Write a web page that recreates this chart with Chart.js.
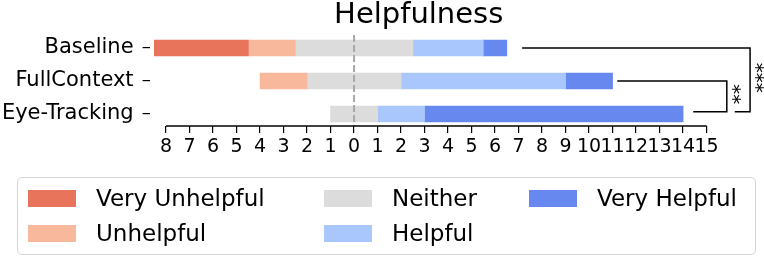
<!DOCTYPE html>
<html>
<head>
<meta charset="utf-8">
<script src="https://cdn.jsdelivr.net/npm/chart.js@4"></script>
<style>
  body { margin: 0; background: #fff; }
  #wrap { position: relative; width: 764px; height: 257px; }
  #legend {
    position: absolute; left: 17px; top: 177px; width: 739px; height: 78px;
    box-sizing: border-box; border: 1.5px solid #d4d4d4; border-radius: 5px;
    font-family: "DejaVu Sans", sans-serif; font-size: 23px; color: #000;
  }
  .item { position: absolute; height: 24px; display: flex; align-items: center; line-height: 1; }
  .sw { width: 48px; height: 17px; margin-right: 20px; }
</style>
</head>
<body>
<div id="wrap">
  <canvas id="chart"></canvas>
  <div id="legend"></div>
</div>
<script>
// ---- data ----
const categories = ['Baseline', 'FullContext', 'Eye-Tracking'];
const levels = ['Very Unhelpful', 'Unhelpful', 'Neither', 'Helpful', 'Very Helpful'];
const colors = ['#e7745b', '#f7b89c', '#dddcdc', '#aac7fd', '#6788ee'];

const veryUnhelpful = [4, 0, 0];
const unhelpful     = [2, 2, 0];
const neither       = [5, 4, 2];
const helpful       = [3, 7, 2];
const veryHelpful   = [1, 2, 11];

const xTicks = [-8, -7, -6, -5, -4, -3, -2, -1, 0, 1, 2, 3, 4, 5, 6, 7, 8, 9, 10, 11, 12, 13, 14, 15];

// significance brackets (data units): row span, x of each arm, label
const brackets = [
  { top: 0, bottom: 1.93, xTop: 7.15, xVert: 16.85, xBottom: 16.2, label: '***' },
  { top: 1, bottom: 1.93, xTop: 11.2, xVert: 15.86, xBottom: 14.43, label: '**' }
];

const FONT = '"DejaVu Sans", sans-serif';

// 把计数转换成以 Neither 中点为 0 的浮动区间（0 计数的段不画）
const counts = [veryUnhelpful, unhelpful, neither, helpful, veryHelpful];
const datasets = levels.map((lvl, k) => ({
  label: lvl,
  backgroundColor: colors[k],
  borderWidth: 0,
  grouped: false,
  barThickness: 16,
  data: categories.map((c, i) => {
    let start = -(veryUnhelpful[i] + unhelpful[i] + neither[i] / 2);
    for (let j = 0; j < k; j++) start += counts[j][i];
    return { x: [start, start + counts[k][i]], y: i, n: counts[k][i] };
  }).filter(d => d.n > 0)
}));

const annotate = {
  id: 'annotate',
  afterDatasetsDraw(chart) {
    const { ctx, chartArea, scales: { x } } = chart;
    const x0 = x.getPixelForValue(0);
    ctx.save();
    ctx.strokeStyle = '#a8a8a8';
    ctx.lineWidth = 2;
    ctx.setLineDash([7, 3]);
    ctx.beginPath();
    ctx.moveTo(x0, chartArea.top);
    ctx.lineTo(x0, chartArea.bottom);
    ctx.stroke();
    ctx.restore();
  },
  afterDraw(chart) {
    const { ctx, chartArea, scales: { x, y } } = chart;
    ctx.save();
    // x axis spine, only over the tick range
    ctx.strokeStyle = '#000';
    ctx.lineWidth = 1.5;
    ctx.beginPath();
    ctx.moveTo(x.getPixelForValue(xTicks[0]), chartArea.bottom);
    ctx.lineTo(x.getPixelForValue(xTicks[xTicks.length - 1]), chartArea.bottom);
    ctx.stroke();

    // brackets
    brackets.forEach(b => {
      const yt = y.getPixelForValue(b.top), yb = y.getPixelForValue(b.bottom);
      const xv = x.getPixelForValue(b.xVert);
      ctx.beginPath();
      ctx.moveTo(x.getPixelForValue(b.xTop), yt);
      ctx.lineTo(xv, yt);
      ctx.lineTo(xv, yb);
      ctx.lineTo(x.getPixelForValue(b.xBottom), yb);
      ctx.stroke();
      ctx.save();
      ctx.translate(xv + 10, (yt + yb) / 2);
      ctx.rotate(Math.PI / 2);
      ctx.fillStyle = '#000';
      ctx.font = '20px ' + FONT;
      ctx.textAlign = 'center';
      ctx.textBaseline = 'middle';
      ctx.fillText(b.label, -2, 5);
      ctx.restore();
    });

    // title
    ctx.fillStyle = '#000';
    ctx.font = '29px ' + FONT;
    ctx.textAlign = 'center';
    ctx.textBaseline = 'alphabetic';
    const tx = (x.getPixelForValue(-8.5) + x.getPixelForValue(14)) / 2;
    ctx.fillText('Helpfulness', tx, 23);
    ctx.restore();
  }
};

new Chart(document.getElementById('chart'), {
  type: 'bar',
  data: { datasets },
  options: {
    indexAxis: 'y',
    responsive: true,
    maintainAspectRatio: false,
    animation: false,
    layout: { padding: { top: 35, right: 1, left: 0, bottom: 0 } },
    plugins: { legend: { display: false }, tooltip: { enabled: false } },
    scales: {
      x: {
        type: 'linear',
        min: -8.7,
        max: 17.4,
        afterBuildTicks: s => { s.ticks = xTicks.map(v => ({ value: v })); },
        afterFit: s => { s.height = 131; },
        ticks: {
          autoSkip: false, maxRotation: 0, minRotation: 0, padding: 3,
          color: '#000', font: { family: FONT, size: 19 },
          callback: v => String(Math.abs(v))
        },
        grid: { drawOnChartArea: false, drawTicks: true, tickLength: 7, color: '#000', lineWidth: 1.2 },
        border: { display: false }
      },
      y: {
        type: 'linear',
        reverse: true,
        offset: false,
        min: -0.394,
        max: 2.364,
        afterBuildTicks: s => { s.ticks = categories.map((c, i) => ({ value: i })); },
        afterFit: s => { s.width = 149.6; },
        ticks: {
          autoSkip: false, padding: 9,
          color: '#000', font: { family: FONT, size: 21 },
          callback: v => categories[v]
        },
        grid: { offset: false, drawOnChartArea: false, drawTicks: true, tickLength: 7, color: '#000', lineWidth: 1.2 },
        border: { display: false }
      }
    }
  },
  plugins: [annotate]
});

// legend, column-major like the original
const colLeft = [10, 306, 511];
const rowMid = [20.3, 55.3];
const legendEl = document.getElementById('legend');
levels.forEach((lvl, k) => {
  const item = document.createElement('div');
  item.className = 'item';
  item.style.left = colLeft[Math.floor(k / 2)] + 'px';
  item.style.top = (rowMid[k % 2] - 12) + 'px';
  item.innerHTML = '<span class="sw" style="background:' + colors[k] + '"></span><span>' + lvl + '</span>';
  legendEl.appendChild(item);
});
</script>
</body>
</html>
